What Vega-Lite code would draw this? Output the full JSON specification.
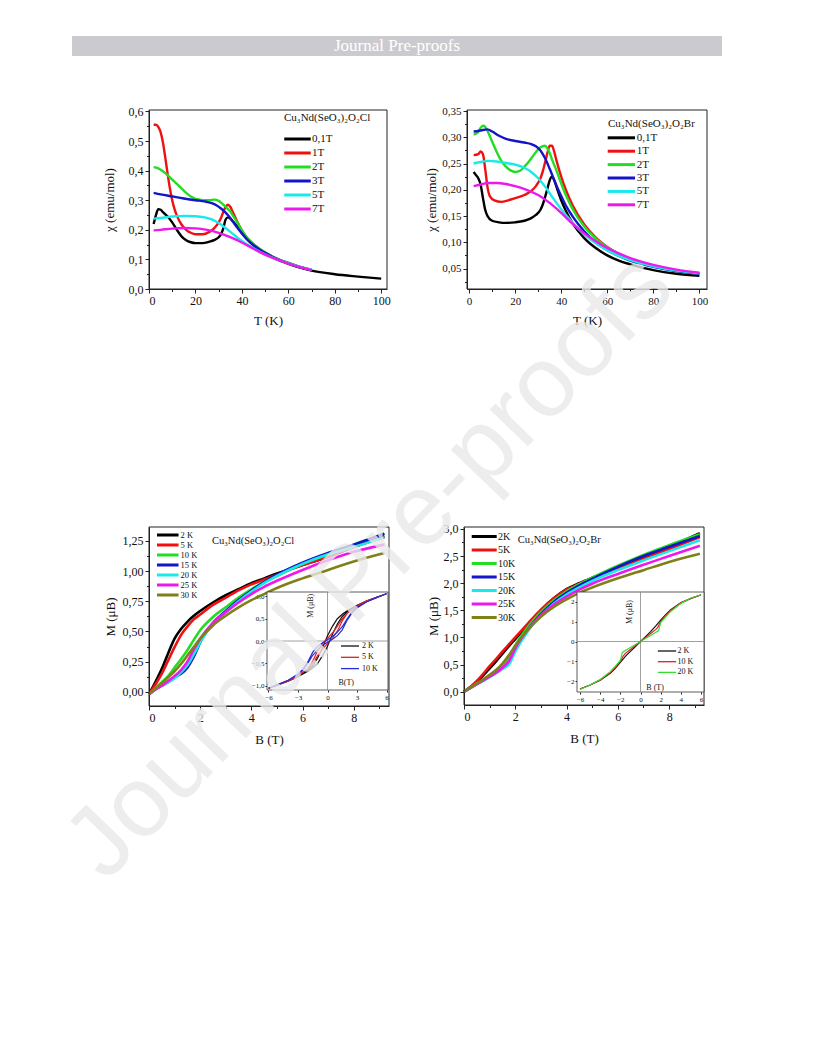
{
"$schema": "https://vega.github.io/schema/vega-lite/v6.json",
"width": 816, "height": 1056,
"autosize": {"type": "none"},
"padding": 0,
"background": "white",
"title": {"text": "Journal Pre-proofs", "anchor": "middle", "frame": "group", "orient": "top", "angle": -46, "font": "Liberation Sans", "fontSize": 100, "fontWeight": "normal", "color": "rgba(232,232,232,0.8)", "align": "center", "baseline": "middle", "offset": -565, "dx": -503, "dy": 433},
"config": {
  "view": {"stroke": null},
  "axis": {"labelFont": "Liberation Serif", "titleFont": "Liberation Serif", "labelColor": "#111", "titleColor": "#111", "domainColor": "#222", "tickColor": "#222", "grid": false, "titleFontWeight": "normal", "labelFontSize": 12, "titleFontSize": 13, "tickSize": 4, "labelPadding": 2},
  "legend": {"labelFont": "Liberation Serif", "titleFont": "Liberation Serif", "labelColor": "#111", "titleColor": "#111", "titleFontWeight": "normal", "padding": 0, "titleAnchor": "start", "titleAlign": "left"},
  "text": {"font": "Liberation Serif", "color": "#111"}
},
"datasets": {
"chiCl": [
{"s":"0,1T","T":2,"chi":0.22},{"s":"0,1T","T":3,"chi":0.25},{"s":"0,1T","T":4,"chi":0.27},{"s":"0,1T","T":5,"chi":0.268},{"s":"0,1T","T":6,"chi":0.26},{"s":"0,1T","T":8,"chi":0.245},{"s":"0,1T","T":10,"chi":0.225},{"s":"0,1T","T":12,"chi":0.2},{"s":"0,1T","T":14,"chi":0.178},{"s":"0,1T","T":16,"chi":0.165},{"s":"0,1T","T":18,"chi":0.158},{"s":"0,1T","T":20,"chi":0.155},{"s":"0,1T","T":23,"chi":0.155},{"s":"0,1T","T":26,"chi":0.16},{"s":"0,1T","T":28,"chi":0.165},{"s":"0,1T","T":30,"chi":0.175},{"s":"0,1T","T":31,"chi":0.185},{"s":"0,1T","T":32,"chi":0.205},{"s":"0,1T","T":33,"chi":0.235},{"s":"0,1T","T":34,"chi":0.242},{"s":"0,1T","T":35,"chi":0.238},{"s":"0,1T","T":36,"chi":0.23},{"s":"0,1T","T":38,"chi":0.212},{"s":"0,1T","T":40,"chi":0.19},{"s":"0,1T","T":42,"chi":0.17},{"s":"0,1T","T":45,"chi":0.148},{"s":"0,1T","T":50,"chi":0.12},{"s":"0,1T","T":55,"chi":0.1},{"s":"0,1T","T":60,"chi":0.085},{"s":"0,1T","T":65,"chi":0.072},{"s":"0,1T","T":70,"chi":0.062},{"s":"0,1T","T":80,"chi":0.05},{"s":"0,1T","T":90,"chi":0.042},{"s":"0,1T","T":100,"chi":0.035},
{"s":"1T","T":2,"chi":0.555},{"s":"1T","T":3,"chi":0.555},{"s":"1T","T":4,"chi":0.548},{"s":"1T","T":5,"chi":0.53},{"s":"1T","T":6,"chi":0.495},{"s":"1T","T":7,"chi":0.445},{"s":"1T","T":8,"chi":0.39},{"s":"1T","T":9,"chi":0.34},{"s":"1T","T":10,"chi":0.3},{"s":"1T","T":11,"chi":0.27},{"s":"1T","T":12,"chi":0.248},{"s":"1T","T":14,"chi":0.218},{"s":"1T","T":16,"chi":0.2},{"s":"1T","T":18,"chi":0.19},{"s":"1T","T":20,"chi":0.185},{"s":"1T","T":23,"chi":0.185},{"s":"1T","T":26,"chi":0.193},{"s":"1T","T":28,"chi":0.205},{"s":"1T","T":30,"chi":0.225},{"s":"1T","T":31,"chi":0.24},{"s":"1T","T":32,"chi":0.26},{"s":"1T","T":33,"chi":0.278},{"s":"1T","T":34,"chi":0.285},{"s":"1T","T":35,"chi":0.278},{"s":"1T","T":36,"chi":0.262},{"s":"1T","T":38,"chi":0.228},{"s":"1T","T":40,"chi":0.198},{"s":"1T","T":42,"chi":0.175},{"s":"1T","T":45,"chi":0.152},{"s":"1T","T":50,"chi":0.123},{"s":"1T","T":55,"chi":0.103},{"s":"1T","T":60,"chi":0.088},{"s":"1T","T":65,"chi":0.075},{"s":"1T","T":70,"chi":0.065},
{"s":"2T","T":2,"chi":0.412},{"s":"2T","T":4,"chi":0.408},{"s":"2T","T":6,"chi":0.398},{"s":"2T","T":8,"chi":0.385},{"s":"2T","T":10,"chi":0.37},{"s":"2T","T":12,"chi":0.355},{"s":"2T","T":14,"chi":0.34},{"s":"2T","T":16,"chi":0.325},{"s":"2T","T":18,"chi":0.313},{"s":"2T","T":20,"chi":0.305},{"s":"2T","T":22,"chi":0.302},{"s":"2T","T":24,"chi":0.3},{"s":"2T","T":26,"chi":0.3},{"s":"2T","T":28,"chi":0.302},{"s":"2T","T":30,"chi":0.298},{"s":"2T","T":31,"chi":0.292},{"s":"2T","T":32,"chi":0.285},{"s":"2T","T":33,"chi":0.278},{"s":"2T","T":34,"chi":0.27},{"s":"2T","T":35,"chi":0.262},{"s":"2T","T":36,"chi":0.25},{"s":"2T","T":38,"chi":0.225},{"s":"2T","T":40,"chi":0.198},{"s":"2T","T":42,"chi":0.176},{"s":"2T","T":45,"chi":0.152},{"s":"2T","T":50,"chi":0.124},{"s":"2T","T":55,"chi":0.103},{"s":"2T","T":60,"chi":0.088},{"s":"2T","T":65,"chi":0.075},{"s":"2T","T":70,"chi":0.065},
{"s":"3T","T":2,"chi":0.325},{"s":"3T","T":5,"chi":0.32},{"s":"3T","T":10,"chi":0.313},{"s":"3T","T":15,"chi":0.306},{"s":"3T","T":20,"chi":0.3},{"s":"3T","T":24,"chi":0.296},{"s":"3T","T":27,"chi":0.29},{"s":"3T","T":29,"chi":0.283},{"s":"3T","T":31,"chi":0.272},{"s":"3T","T":33,"chi":0.258},{"s":"3T","T":35,"chi":0.24},{"s":"3T","T":37,"chi":0.218},{"s":"3T","T":40,"chi":0.188},{"s":"3T","T":42,"chi":0.17},{"s":"3T","T":45,"chi":0.148},{"s":"3T","T":50,"chi":0.122},{"s":"3T","T":55,"chi":0.102},{"s":"3T","T":60,"chi":0.087},{"s":"3T","T":65,"chi":0.074},{"s":"3T","T":70,"chi":0.064},
{"s":"5T","T":2,"chi":0.238},{"s":"5T","T":5,"chi":0.24},{"s":"5T","T":10,"chi":0.245},{"s":"5T","T":15,"chi":0.247},{"s":"5T","T":20,"chi":0.246},{"s":"5T","T":24,"chi":0.242},{"s":"5T","T":27,"chi":0.235},{"s":"5T","T":30,"chi":0.223},{"s":"5T","T":33,"chi":0.206},{"s":"5T","T":36,"chi":0.187},{"s":"5T","T":40,"chi":0.162},{"s":"5T","T":45,"chi":0.138},{"s":"5T","T":50,"chi":0.117},{"s":"5T","T":55,"chi":0.1},{"s":"5T","T":60,"chi":0.087},{"s":"5T","T":65,"chi":0.075},{"s":"5T","T":70,"chi":0.065},
{"s":"7T","T":2,"chi":0.198},{"s":"7T","T":5,"chi":0.2},{"s":"7T","T":10,"chi":0.204},{"s":"7T","T":15,"chi":0.206},{"s":"7T","T":20,"chi":0.205},{"s":"7T","T":25,"chi":0.2},{"s":"7T","T":30,"chi":0.19},{"s":"7T","T":35,"chi":0.175},{"s":"7T","T":40,"chi":0.157},{"s":"7T","T":45,"chi":0.136},{"s":"7T","T":50,"chi":0.116},{"s":"7T","T":55,"chi":0.1},{"s":"7T","T":60,"chi":0.086},{"s":"7T","T":65,"chi":0.074},{"s":"7T","T":70,"chi":0.064}
],
"chiBr": [
{"s":"0,1T","T":2,"chi":0.234},{"s":"0,1T","T":3,"chi":0.228},{"s":"0,1T","T":4,"chi":0.222},{"s":"0,1T","T":5,"chi":0.21},{"s":"0,1T","T":6,"chi":0.185},{"s":"0,1T","T":7,"chi":0.162},{"s":"0,1T","T":8,"chi":0.15},{"s":"0,1T","T":10,"chi":0.141},{"s":"0,1T","T":13,"chi":0.138},{"s":"0,1T","T":16,"chi":0.137},{"s":"0,1T","T":20,"chi":0.138},{"s":"0,1T","T":24,"chi":0.141},{"s":"0,1T","T":27,"chi":0.146},{"s":"0,1T","T":29,"chi":0.152},{"s":"0,1T","T":31,"chi":0.162},{"s":"0,1T","T":32,"chi":0.172},{"s":"0,1T","T":33,"chi":0.186},{"s":"0,1T","T":34,"chi":0.202},{"s":"0,1T","T":35,"chi":0.218},{"s":"0,1T","T":36,"chi":0.225},{"s":"0,1T","T":37,"chi":0.218},{"s":"0,1T","T":38,"chi":0.205},{"s":"0,1T","T":40,"chi":0.18},{"s":"0,1T","T":42,"chi":0.16},{"s":"0,1T","T":45,"chi":0.136},{"s":"0,1T","T":50,"chi":0.108},{"s":"0,1T","T":55,"chi":0.089},{"s":"0,1T","T":60,"chi":0.075},{"s":"0,1T","T":65,"chi":0.065},{"s":"0,1T","T":70,"chi":0.058},{"s":"0,1T","T":80,"chi":0.047},{"s":"0,1T","T":90,"chi":0.04},{"s":"0,1T","T":100,"chi":0.036},
{"s":"1T","T":2,"chi":0.266},{"s":"1T","T":4,"chi":0.268},{"s":"1T","T":5,"chi":0.273},{"s":"1T","T":6,"chi":0.268},{"s":"1T","T":7,"chi":0.24},{"s":"1T","T":8,"chi":0.205},{"s":"1T","T":9,"chi":0.188},{"s":"1T","T":11,"chi":0.18},{"s":"1T","T":14,"chi":0.177},{"s":"1T","T":17,"chi":0.18},{"s":"1T","T":20,"chi":0.184},{"s":"1T","T":24,"chi":0.19},{"s":"1T","T":27,"chi":0.198},{"s":"1T","T":29,"chi":0.207},{"s":"1T","T":31,"chi":0.222},{"s":"1T","T":32,"chi":0.235},{"s":"1T","T":33,"chi":0.252},{"s":"1T","T":34,"chi":0.27},{"s":"1T","T":35,"chi":0.284},{"s":"1T","T":36,"chi":0.284},{"s":"1T","T":37,"chi":0.272},{"s":"1T","T":38,"chi":0.255},{"s":"1T","T":40,"chi":0.225},{"s":"1T","T":42,"chi":0.2},{"s":"1T","T":45,"chi":0.17},{"s":"1T","T":50,"chi":0.134},{"s":"1T","T":55,"chi":0.109},{"s":"1T","T":60,"chi":0.091},{"s":"1T","T":65,"chi":0.078},{"s":"1T","T":70,"chi":0.068},{"s":"1T","T":80,"chi":0.055},{"s":"1T","T":90,"chi":0.046},{"s":"1T","T":100,"chi":0.04},
{"s":"2T","T":2,"chi":0.305},{"s":"2T","T":4,"chi":0.31},{"s":"2T","T":5,"chi":0.318},{"s":"2T","T":6,"chi":0.322},{"s":"2T","T":7,"chi":0.32},{"s":"2T","T":8,"chi":0.312},{"s":"2T","T":10,"chi":0.292},{"s":"2T","T":12,"chi":0.272},{"s":"2T","T":14,"chi":0.255},{"s":"2T","T":16,"chi":0.244},{"s":"2T","T":18,"chi":0.237},{"s":"2T","T":20,"chi":0.234},{"s":"2T","T":22,"chi":0.236},{"s":"2T","T":24,"chi":0.244},{"s":"2T","T":26,"chi":0.254},{"s":"2T","T":28,"chi":0.266},{"s":"2T","T":30,"chi":0.277},{"s":"2T","T":32,"chi":0.283},{"s":"2T","T":33,"chi":0.284},{"s":"2T","T":34,"chi":0.279},{"s":"2T","T":35,"chi":0.27},{"s":"2T","T":36,"chi":0.258},{"s":"2T","T":38,"chi":0.236},{"s":"2T","T":40,"chi":0.212},{"s":"2T","T":42,"chi":0.19},{"s":"2T","T":45,"chi":0.163},{"s":"2T","T":50,"chi":0.13},{"s":"2T","T":55,"chi":0.107},{"s":"2T","T":60,"chi":0.09},{"s":"2T","T":65,"chi":0.077},{"s":"2T","T":70,"chi":0.067},{"s":"2T","T":80,"chi":0.054},{"s":"2T","T":90,"chi":0.045},{"s":"2T","T":100,"chi":0.04},
{"s":"3T","T":2,"chi":0.311},{"s":"3T","T":4,"chi":0.312},{"s":"3T","T":6,"chi":0.314},{"s":"3T","T":8,"chi":0.315},{"s":"3T","T":10,"chi":0.311},{"s":"3T","T":13,"chi":0.303},{"s":"3T","T":16,"chi":0.297},{"s":"3T","T":20,"chi":0.293},{"s":"3T","T":24,"chi":0.29},{"s":"3T","T":27,"chi":0.287},{"s":"3T","T":29,"chi":0.283},{"s":"3T","T":31,"chi":0.275},{"s":"3T","T":33,"chi":0.26},{"s":"3T","T":35,"chi":0.24},{"s":"3T","T":37,"chi":0.218},{"s":"3T","T":40,"chi":0.188},{"s":"3T","T":42,"chi":0.17},{"s":"3T","T":45,"chi":0.149},{"s":"3T","T":50,"chi":0.121},{"s":"3T","T":55,"chi":0.1},{"s":"3T","T":60,"chi":0.085},{"s":"3T","T":65,"chi":0.074},{"s":"3T","T":70,"chi":0.065},{"s":"3T","T":80,"chi":0.053},{"s":"3T","T":90,"chi":0.045},{"s":"3T","T":100,"chi":0.04},
{"s":"5T","T":2,"chi":0.25},{"s":"5T","T":5,"chi":0.253},{"s":"5T","T":8,"chi":0.255},{"s":"5T","T":12,"chi":0.254},{"s":"5T","T":16,"chi":0.251},{"s":"5T","T":20,"chi":0.248},{"s":"5T","T":24,"chi":0.242},{"s":"5T","T":27,"chi":0.234},{"s":"5T","T":30,"chi":0.222},{"s":"5T","T":33,"chi":0.206},{"s":"5T","T":36,"chi":0.187},{"s":"5T","T":40,"chi":0.163},{"s":"5T","T":45,"chi":0.137},{"s":"5T","T":50,"chi":0.115},{"s":"5T","T":55,"chi":0.098},{"s":"5T","T":60,"chi":0.085},{"s":"5T","T":65,"chi":0.074},{"s":"5T","T":70,"chi":0.066},{"s":"5T","T":80,"chi":0.054},{"s":"5T","T":90,"chi":0.046},{"s":"5T","T":100,"chi":0.041},
{"s":"7T","T":2,"chi":0.207},{"s":"7T","T":5,"chi":0.21},{"s":"7T","T":8,"chi":0.213},{"s":"7T","T":12,"chi":0.213},{"s":"7T","T":16,"chi":0.211},{"s":"7T","T":20,"chi":0.207},{"s":"7T","T":25,"chi":0.2},{"s":"7T","T":30,"chi":0.19},{"s":"7T","T":35,"chi":0.175},{"s":"7T","T":40,"chi":0.156},{"s":"7T","T":45,"chi":0.135},{"s":"7T","T":50,"chi":0.117},{"s":"7T","T":55,"chi":0.102},{"s":"7T","T":60,"chi":0.089},{"s":"7T","T":65,"chi":0.079},{"s":"7T","T":70,"chi":0.07},{"s":"7T","T":80,"chi":0.057},{"s":"7T","T":90,"chi":0.048},{"s":"7T","T":100,"chi":0.042}
],
"mCl": [
{"s":"2 K","B":0,"M":-0.02},{"s":"2 K","B":0.25,"M":0.08},{"s":"2 K","B":0.5,"M":0.19},{"s":"2 K","B":0.75,"M":0.32},{"s":"2 K","B":1,"M":0.44},{"s":"2 K","B":1.25,"M":0.52},{"s":"2 K","B":1.5,"M":0.58},{"s":"2 K","B":1.75,"M":0.63},{"s":"2 K","B":2,"M":0.67},{"s":"2 K","B":2.5,"M":0.74},{"s":"2 K","B":3,"M":0.8},{"s":"2 K","B":3.5,"M":0.85},{"s":"2 K","B":4,"M":0.9},{"s":"2 K","B":4.5,"M":0.94},{"s":"2 K","B":5,"M":0.98},{"s":"2 K","B":6,"M":1.05},{"s":"2 K","B":7,"M":1.12},{"s":"2 K","B":8,"M":1.2},{"s":"2 K","B":9.2,"M":1.29},
{"s":"5 K","B":0,"M":-0.02},{"s":"5 K","B":0.25,"M":0.06},{"s":"5 K","B":0.5,"M":0.15},{"s":"5 K","B":0.75,"M":0.26},{"s":"5 K","B":1,"M":0.37},{"s":"5 K","B":1.25,"M":0.47},{"s":"5 K","B":1.5,"M":0.54},{"s":"5 K","B":1.75,"M":0.6},{"s":"5 K","B":2,"M":0.64},{"s":"5 K","B":2.5,"M":0.72},{"s":"5 K","B":3,"M":0.78},{"s":"5 K","B":3.5,"M":0.84},{"s":"5 K","B":4,"M":0.89},{"s":"5 K","B":4.5,"M":0.93},{"s":"5 K","B":5,"M":0.97},{"s":"5 K","B":6,"M":1.05},{"s":"5 K","B":7,"M":1.12},{"s":"5 K","B":8,"M":1.2},{"s":"5 K","B":9.2,"M":1.28},
{"s":"10 K","B":0,"M":-0.02},{"s":"10 K","B":0.25,"M":0.03},{"s":"10 K","B":0.5,"M":0.08},{"s":"10 K","B":0.75,"M":0.13},{"s":"10 K","B":1,"M":0.2},{"s":"10 K","B":1.25,"M":0.27},{"s":"10 K","B":1.5,"M":0.345},{"s":"10 K","B":1.75,"M":0.43},{"s":"10 K","B":2,"M":0.51},{"s":"10 K","B":2.5,"M":0.62},{"s":"10 K","B":3,"M":0.7},{"s":"10 K","B":3.5,"M":0.78},{"s":"10 K","B":4,"M":0.85},{"s":"10 K","B":4.5,"M":0.91},{"s":"10 K","B":5,"M":0.96},{"s":"10 K","B":6,"M":1.06},{"s":"10 K","B":7,"M":1.14},{"s":"10 K","B":8,"M":1.22},{"s":"10 K","B":9.2,"M":1.31},
{"s":"15 K","B":0,"M":-0.02},{"s":"15 K","B":0.25,"M":0.02},{"s":"15 K","B":0.5,"M":0.05},{"s":"15 K","B":0.75,"M":0.08},{"s":"15 K","B":1,"M":0.12},{"s":"15 K","B":1.25,"M":0.15},{"s":"15 K","B":1.5,"M":0.2},{"s":"15 K","B":1.75,"M":0.29},{"s":"15 K","B":2,"M":0.41},{"s":"15 K","B":2.5,"M":0.57},{"s":"15 K","B":3,"M":0.67},{"s":"15 K","B":3.5,"M":0.76},{"s":"15 K","B":4,"M":0.84},{"s":"15 K","B":4.5,"M":0.91},{"s":"15 K","B":5,"M":0.97},{"s":"15 K","B":6,"M":1.07},{"s":"15 K","B":7,"M":1.15},{"s":"15 K","B":8,"M":1.22},{"s":"15 K","B":9.2,"M":1.31},
{"s":"20 K","B":0,"M":-0.02},{"s":"20 K","B":0.25,"M":0.02},{"s":"20 K","B":0.5,"M":0.05},{"s":"20 K","B":0.75,"M":0.08},{"s":"20 K","B":1,"M":0.11},{"s":"20 K","B":1.25,"M":0.16},{"s":"20 K","B":1.5,"M":0.22},{"s":"20 K","B":1.75,"M":0.31},{"s":"20 K","B":2,"M":0.41},{"s":"20 K","B":2.5,"M":0.56},{"s":"20 K","B":3,"M":0.66},{"s":"20 K","B":3.5,"M":0.75},{"s":"20 K","B":4,"M":0.83},{"s":"20 K","B":4.5,"M":0.9},{"s":"20 K","B":5,"M":0.96},{"s":"20 K","B":6,"M":1.06},{"s":"20 K","B":7,"M":1.14},{"s":"20 K","B":8,"M":1.2},{"s":"20 K","B":9.2,"M":1.28},
{"s":"25 K","B":0,"M":-0.02},{"s":"25 K","B":0.25,"M":0.02},{"s":"25 K","B":0.5,"M":0.05},{"s":"25 K","B":0.75,"M":0.09},{"s":"25 K","B":1,"M":0.13},{"s":"25 K","B":1.25,"M":0.18},{"s":"25 K","B":1.5,"M":0.25},{"s":"25 K","B":1.75,"M":0.35},{"s":"25 K","B":2,"M":0.44},{"s":"25 K","B":2.5,"M":0.57},{"s":"25 K","B":3,"M":0.66},{"s":"25 K","B":3.5,"M":0.74},{"s":"25 K","B":4,"M":0.81},{"s":"25 K","B":4.5,"M":0.87},{"s":"25 K","B":5,"M":0.92},{"s":"25 K","B":6,"M":1.01},{"s":"25 K","B":7,"M":1.09},{"s":"25 K","B":8,"M":1.16},{"s":"25 K","B":9.2,"M":1.22},
{"s":"30 K","B":0,"M":-0.02},{"s":"30 K","B":0.25,"M":0.03},{"s":"30 K","B":0.5,"M":0.07},{"s":"30 K","B":0.75,"M":0.12},{"s":"30 K","B":1,"M":0.17},{"s":"30 K","B":1.25,"M":0.23},{"s":"30 K","B":1.5,"M":0.3},{"s":"30 K","B":1.75,"M":0.37},{"s":"30 K","B":2,"M":0.44},{"s":"30 K","B":2.5,"M":0.55},{"s":"30 K","B":3,"M":0.63},{"s":"30 K","B":3.5,"M":0.7},{"s":"30 K","B":4,"M":0.76},{"s":"30 K","B":4.5,"M":0.81},{"s":"30 K","B":5,"M":0.86},{"s":"30 K","B":6,"M":0.94},{"s":"30 K","B":7,"M":1.01},{"s":"30 K","B":8,"M":1.08},{"s":"30 K","B":9.2,"M":1.15}
],
"mBr": [
{"s":"2K","B":0,"M":0},{"s":"2K","B":0.25,"M":0.08},{"s":"2K","B":0.5,"M":0.18},{"s":"2K","B":0.75,"M":0.3},{"s":"2K","B":1,"M":0.43},{"s":"2K","B":1.25,"M":0.56},{"s":"2K","B":1.5,"M":0.7},{"s":"2K","B":1.75,"M":0.84},{"s":"2K","B":2,"M":0.97},{"s":"2K","B":2.5,"M":1.24},{"s":"2K","B":3,"M":1.5},{"s":"2K","B":3.5,"M":1.72},{"s":"2K","B":4,"M":1.89},{"s":"2K","B":4.5,"M":2.0},{"s":"2K","B":5,"M":2.1},{"s":"2K","B":6,"M":2.29},{"s":"2K","B":7,"M":2.48},{"s":"2K","B":8,"M":2.67},{"s":"2K","B":9.2,"M":2.92},
{"s":"5K","B":0,"M":0},{"s":"5K","B":0.25,"M":0.09},{"s":"5K","B":0.5,"M":0.2},{"s":"5K","B":0.75,"M":0.33},{"s":"5K","B":1,"M":0.47},{"s":"5K","B":1.25,"M":0.6},{"s":"5K","B":1.5,"M":0.74},{"s":"5K","B":1.75,"M":0.87},{"s":"5K","B":2,"M":1.0},{"s":"5K","B":2.5,"M":1.26},{"s":"5K","B":3,"M":1.51},{"s":"5K","B":3.5,"M":1.72},{"s":"5K","B":4,"M":1.88},{"s":"5K","B":4.5,"M":1.99},{"s":"5K","B":5,"M":2.09},{"s":"5K","B":6,"M":2.27},{"s":"5K","B":7,"M":2.45},{"s":"5K","B":8,"M":2.63},{"s":"5K","B":9.2,"M":2.85},
{"s":"10K","B":0,"M":0},{"s":"10K","B":0.25,"M":0.07},{"s":"10K","B":0.5,"M":0.15},{"s":"10K","B":0.75,"M":0.22},{"s":"10K","B":1,"M":0.3},{"s":"10K","B":1.25,"M":0.38},{"s":"10K","B":1.5,"M":0.47},{"s":"10K","B":1.75,"M":0.62},{"s":"10K","B":2,"M":0.85},{"s":"10K","B":2.5,"M":1.2},{"s":"10K","B":3,"M":1.47},{"s":"10K","B":3.5,"M":1.68},{"s":"10K","B":4,"M":1.85},{"s":"10K","B":4.5,"M":1.98},{"s":"10K","B":5,"M":2.1},{"s":"10K","B":6,"M":2.32},{"s":"10K","B":7,"M":2.52},{"s":"10K","B":8,"M":2.7},{"s":"10K","B":9.2,"M":2.9},
{"s":"15K","B":0,"M":0},{"s":"15K","B":0.25,"M":0.07},{"s":"15K","B":0.5,"M":0.14},{"s":"15K","B":0.75,"M":0.21},{"s":"15K","B":1,"M":0.28},{"s":"15K","B":1.25,"M":0.35},{"s":"15K","B":1.5,"M":0.43},{"s":"15K","B":1.75,"M":0.53},{"s":"15K","B":2,"M":0.78},{"s":"15K","B":2.5,"M":1.15},{"s":"15K","B":3,"M":1.43},{"s":"15K","B":3.5,"M":1.65},{"s":"15K","B":4,"M":1.82},{"s":"15K","B":4.5,"M":1.96},{"s":"15K","B":5,"M":2.08},{"s":"15K","B":6,"M":2.3},{"s":"15K","B":7,"M":2.5},{"s":"15K","B":8,"M":2.67},{"s":"15K","B":9.2,"M":2.87},
{"s":"20K","B":0,"M":0},{"s":"20K","B":0.25,"M":0.07},{"s":"20K","B":0.5,"M":0.14},{"s":"20K","B":0.75,"M":0.2},{"s":"20K","B":1,"M":0.27},{"s":"20K","B":1.25,"M":0.34},{"s":"20K","B":1.5,"M":0.42},{"s":"20K","B":1.75,"M":0.5},{"s":"20K","B":2,"M":0.74},{"s":"20K","B":2.5,"M":1.12},{"s":"20K","B":3,"M":1.4},{"s":"20K","B":3.5,"M":1.62},{"s":"20K","B":4,"M":1.79},{"s":"20K","B":4.5,"M":1.92},{"s":"20K","B":5,"M":2.04},{"s":"20K","B":6,"M":2.24},{"s":"20K","B":7,"M":2.42},{"s":"20K","B":8,"M":2.59},{"s":"20K","B":9.2,"M":2.79},
{"s":"25K","B":0,"M":0},{"s":"25K","B":0.25,"M":0.07},{"s":"25K","B":0.5,"M":0.14},{"s":"25K","B":0.75,"M":0.21},{"s":"25K","B":1,"M":0.28},{"s":"25K","B":1.25,"M":0.35},{"s":"25K","B":1.5,"M":0.44},{"s":"25K","B":1.75,"M":0.56},{"s":"25K","B":2,"M":0.8},{"s":"25K","B":2.5,"M":1.15},{"s":"25K","B":3,"M":1.41},{"s":"25K","B":3.5,"M":1.6},{"s":"25K","B":4,"M":1.75},{"s":"25K","B":4.5,"M":1.88},{"s":"25K","B":5,"M":1.99},{"s":"25K","B":6,"M":2.17},{"s":"25K","B":7,"M":2.34},{"s":"25K","B":8,"M":2.5},{"s":"25K","B":9.2,"M":2.69},
{"s":"30K","B":0,"M":0},{"s":"30K","B":0.25,"M":0.08},{"s":"30K","B":0.5,"M":0.15},{"s":"30K","B":0.75,"M":0.23},{"s":"30K","B":1,"M":0.31},{"s":"30K","B":1.25,"M":0.4},{"s":"30K","B":1.5,"M":0.52},{"s":"30K","B":1.75,"M":0.67},{"s":"30K","B":2,"M":0.85},{"s":"30K","B":2.5,"M":1.15},{"s":"30K","B":3,"M":1.38},{"s":"30K","B":3.5,"M":1.56},{"s":"30K","B":4,"M":1.7},{"s":"30K","B":4.5,"M":1.82},{"s":"30K","B":5,"M":1.92},{"s":"30K","B":6,"M":2.09},{"s":"30K","B":7,"M":2.24},{"s":"30K","B":8,"M":2.39},{"s":"30K","B":9.2,"M":2.54}
],
"insCl": [
{"s":"2 K","i":0,"B":-6,"M":-1.06},{"s":"2 K","i":1,"B":-5,"M":-0.98},{"s":"2 K","i":2,"B":-4,"M":-0.9},{"s":"2 K","i":3,"B":-3,"M":-0.8},{"s":"2 K","i":4,"B":-2,"M":-0.68},{"s":"2 K","i":5,"B":-1.5,"M":-0.6},{"s":"2 K","i":6,"B":-1,"M":-0.5},{"s":"2 K","i":7,"B":-0.5,"M":-0.33},{"s":"2 K","i":8,"B":0,"M":-0.12},{"s":"2 K","i":9,"B":0.5,"M":0.15},{"s":"2 K","i":10,"B":1,"M":0.38},{"s":"2 K","i":11,"B":1.5,"M":0.55},{"s":"2 K","i":12,"B":2,"M":0.65},{"s":"2 K","i":13,"B":3,"M":0.79},{"s":"2 K","i":14,"B":4,"M":0.89},{"s":"2 K","i":15,"B":5,"M":0.98},{"s":"2 K","i":16,"B":6,"M":1.06},{"s":"2 K","i":17,"B":5,"M":0.98},{"s":"2 K","i":18,"B":4,"M":0.9},{"s":"2 K","i":19,"B":3,"M":0.8},{"s":"2 K","i":20,"B":2,"M":0.68},{"s":"2 K","i":21,"B":1.5,"M":0.6},{"s":"2 K","i":22,"B":1,"M":0.5},{"s":"2 K","i":23,"B":0.5,"M":0.33},{"s":"2 K","i":24,"B":0,"M":0.12},{"s":"2 K","i":25,"B":-0.5,"M":-0.15},{"s":"2 K","i":26,"B":-1,"M":-0.38},{"s":"2 K","i":27,"B":-1.5,"M":-0.55},{"s":"2 K","i":28,"B":-2,"M":-0.65},{"s":"2 K","i":29,"B":-3,"M":-0.79},{"s":"2 K","i":30,"B":-4,"M":-0.89},{"s":"2 K","i":31,"B":-5,"M":-0.98},{"s":"2 K","i":32,"B":-6,"M":-1.06},
{"s":"5 K","i":0,"B":-6,"M":-1.06},{"s":"5 K","i":1,"B":-5,"M":-0.98},{"s":"5 K","i":2,"B":-4,"M":-0.9},{"s":"5 K","i":3,"B":-3,"M":-0.79},{"s":"5 K","i":4,"B":-2,"M":-0.62},{"s":"5 K","i":5,"B":-1.5,"M":-0.5},{"s":"5 K","i":6,"B":-1,"M":-0.33},{"s":"5 K","i":7,"B":-0.5,"M":-0.18},{"s":"5 K","i":8,"B":0,"M":-0.06},{"s":"5 K","i":9,"B":0.5,"M":0.06},{"s":"5 K","i":10,"B":1,"M":0.22},{"s":"5 K","i":11,"B":1.5,"M":0.45},{"s":"5 K","i":12,"B":2,"M":0.62},{"s":"5 K","i":13,"B":3,"M":0.78},{"s":"5 K","i":14,"B":4,"M":0.89},{"s":"5 K","i":15,"B":5,"M":0.98},{"s":"5 K","i":16,"B":6,"M":1.06},{"s":"5 K","i":17,"B":5,"M":0.98},{"s":"5 K","i":18,"B":4,"M":0.9},{"s":"5 K","i":19,"B":3,"M":0.79},{"s":"5 K","i":20,"B":2,"M":0.62},{"s":"5 K","i":21,"B":1.5,"M":0.5},{"s":"5 K","i":22,"B":1,"M":0.33},{"s":"5 K","i":23,"B":0.5,"M":0.18},{"s":"5 K","i":24,"B":0,"M":0.06},{"s":"5 K","i":25,"B":-0.5,"M":-0.06},{"s":"5 K","i":26,"B":-1,"M":-0.22},{"s":"5 K","i":27,"B":-1.5,"M":-0.45},{"s":"5 K","i":28,"B":-2,"M":-0.62},{"s":"5 K","i":29,"B":-3,"M":-0.78},{"s":"5 K","i":30,"B":-4,"M":-0.89},{"s":"5 K","i":31,"B":-5,"M":-0.98},{"s":"5 K","i":32,"B":-6,"M":-1.06},
{"s":"10 K","i":0,"B":-6,"M":-1.06},{"s":"10 K","i":1,"B":-5,"M":-0.97},{"s":"10 K","i":2,"B":-4,"M":-0.88},{"s":"10 K","i":3,"B":-3,"M":-0.76},{"s":"10 K","i":4,"B":-2.5,"M":-0.66},{"s":"10 K","i":5,"B":-2,"M":-0.5},{"s":"10 K","i":6,"B":-1.5,"M":-0.32},{"s":"10 K","i":7,"B":-1,"M":-0.2},{"s":"10 K","i":8,"B":-0.5,"M":-0.1},{"s":"10 K","i":9,"B":0,"M":-0.03},{"s":"10 K","i":10,"B":0.5,"M":0.04},{"s":"10 K","i":11,"B":1,"M":0.12},{"s":"10 K","i":12,"B":1.5,"M":0.25},{"s":"10 K","i":13,"B":2,"M":0.47},{"s":"10 K","i":14,"B":2.5,"M":0.63},{"s":"10 K","i":15,"B":3,"M":0.74},{"s":"10 K","i":16,"B":4,"M":0.88},{"s":"10 K","i":17,"B":5,"M":0.98},{"s":"10 K","i":18,"B":6,"M":1.06},{"s":"10 K","i":19,"B":5,"M":0.97},{"s":"10 K","i":20,"B":4,"M":0.88},{"s":"10 K","i":21,"B":3,"M":0.76},{"s":"10 K","i":22,"B":2.5,"M":0.66},{"s":"10 K","i":23,"B":2,"M":0.5},{"s":"10 K","i":24,"B":1.5,"M":0.32},{"s":"10 K","i":25,"B":1,"M":0.2},{"s":"10 K","i":26,"B":0.5,"M":0.1},{"s":"10 K","i":27,"B":0,"M":0.03},{"s":"10 K","i":28,"B":-0.5,"M":-0.04},{"s":"10 K","i":29,"B":-1,"M":-0.12},{"s":"10 K","i":30,"B":-1.5,"M":-0.25},{"s":"10 K","i":31,"B":-2,"M":-0.47},{"s":"10 K","i":32,"B":-2.5,"M":-0.63},{"s":"10 K","i":33,"B":-3,"M":-0.74},{"s":"10 K","i":34,"B":-4,"M":-0.88},{"s":"10 K","i":35,"B":-5,"M":-0.98},{"s":"10 K","i":36,"B":-6,"M":-1.06}
],
"insBr": [
{"s":"2 K","B":-6,"M":-2.4},{"s":"2 K","B":-5,"M":-2.2},{"s":"2 K","B":-4,"M":-1.95},{"s":"2 K","B":-3,"M":-1.6},{"s":"2 K","B":-2.5,"M":-1.35},{"s":"2 K","B":-2,"M":-1.05},{"s":"2 K","B":-1.5,"M":-0.75},{"s":"2 K","B":-1,"M":-0.5},{"s":"2 K","B":-0.5,"M":-0.25},{"s":"2 K","B":0,"M":0},{"s":"2 K","B":0.5,"M":0.25},{"s":"2 K","B":1,"M":0.5},{"s":"2 K","B":1.5,"M":0.78},{"s":"2 K","B":2,"M":1.08},{"s":"2 K","B":2.5,"M":1.35},{"s":"2 K","B":3,"M":1.6},{"s":"2 K","B":4,"M":1.95},{"s":"2 K","B":5,"M":2.17},{"s":"2 K","B":6,"M":2.35},
{"s":"10 K","B":-6,"M":-2.4},{"s":"10 K","B":-5,"M":-2.2},{"s":"10 K","B":-4,"M":-1.95},{"s":"10 K","B":-3,"M":-1.57},{"s":"10 K","B":-2.5,"M":-1.3},{"s":"10 K","B":-2,"M":-1.0},{"s":"10 K","B":-1.7,"M":-0.72},{"s":"10 K","B":-1.5,"M":-0.6},{"s":"10 K","B":-1,"M":-0.4},{"s":"10 K","B":-0.5,"M":-0.2},{"s":"10 K","B":0,"M":0},{"s":"10 K","B":0.5,"M":0.2},{"s":"10 K","B":1,"M":0.4},{"s":"10 K","B":1.5,"M":0.6},{"s":"10 K","B":1.7,"M":0.7},{"s":"10 K","B":2,"M":1.0},{"s":"10 K","B":2.5,"M":1.3},{"s":"10 K","B":3,"M":1.57},{"s":"10 K","B":4,"M":1.95},{"s":"10 K","B":5,"M":2.18},{"s":"10 K","B":6,"M":2.36},
{"s":"20 K","B":-6,"M":-2.42},{"s":"20 K","B":-5,"M":-2.2},{"s":"20 K","B":-4,"M":-1.92},{"s":"20 K","B":-3,"M":-1.52},{"s":"20 K","B":-2.5,"M":-1.25},{"s":"20 K","B":-2,"M":-0.95},{"s":"20 K","B":-1.8,"M":-0.55},{"s":"20 K","B":-1.5,"M":-0.45},{"s":"20 K","B":-1,"M":-0.3},{"s":"20 K","B":-0.5,"M":-0.15},{"s":"20 K","B":0,"M":0},{"s":"20 K","B":0.5,"M":0.15},{"s":"20 K","B":1,"M":0.3},{"s":"20 K","B":1.5,"M":0.45},{"s":"20 K","B":1.8,"M":0.55},{"s":"20 K","B":2,"M":0.95},{"s":"20 K","B":2.5,"M":1.25},{"s":"20 K","B":3,"M":1.52},{"s":"20 K","B":4,"M":1.92},{"s":"20 K","B":5,"M":2.2},{"s":"20 K","B":6,"M":2.36}
]
},
"resolve": {"scale": {"x": "independent", "y": "independent", "color": "independent"}},
"layer": [
{"data": {"values": [{}]}, "mark": {"type": "rect", "fill": "#cbcbcf"},
 "encoding": {"x": {"datum": 0, "type": "quantitative", "scale": {"domain": [0,1], "range": [72,722], "nice": false, "zero": false}, "axis": null}, "x2": {"datum": 1},
  "y": {"datum": 0, "type": "quantitative", "scale": {"domain": [0,1], "range": [56,36], "nice": false, "zero": false}, "axis": null}, "y2": {"datum": 1}}},
{"data": {"values": [{}]}, "mark": {"type": "text", "text": "Journal Pre-proofs", "font": "Liberation Serif", "fontSize": 17, "color": "white", "baseline": "middle", "align": "center"},
 "encoding": {"x": {"datum": 0.5, "type": "quantitative", "scale": {"domain": [0,1], "range": [72,722], "nice": false, "zero": false}, "axis": null},
  "y": {"datum": 0.5, "type": "quantitative", "scale": {"domain": [0,1], "range": [56,36], "nice": false, "zero": false}, "axis": null}}},

{"data": {"name": "chiCl"}, "mark": {"type": "line", "strokeWidth": 2.4, "interpolate": "monotone"},
 "encoding": {
  "x": {"field": "T", "type": "quantitative", "scale": {"domain": [0,102.5], "range": [149,387], "nice": false, "zero": false},
   "axis": {"orient": "bottom", "offset": -767, "values": [0,20,40,60,80,100], "title": "T (K)", "titlePadding": 8}},
  "y": {"field": "chi", "type": "quantitative", "scale": {"domain": [0,0.605], "range": [289,110], "nice": false, "zero": false},
   "axis": {"orient": "left", "offset": -149, "values": [0,0.1,0.2,0.3,0.4,0.5,0.6], "labelExpr": "replace(format(datum.value,'.1f'),'.',',')", "title": "χ (emu/mol)", "titlePadding": 12}},
  "color": {"field": "s", "type": "nominal", "scale": {"domain": ["0,1T","1T","2T","3T","5T","7T"], "range": ["#000000","#ee1111","#22dd22","#1414c8","#18eaea","#ee18ee"]},
   "legend": {"orient": "none", "legendX": 284, "legendY": 112, "title": "Cu₃Nd(SeO₃)₂O₂Cl", "titleFontSize": 11, "titlePadding": 9.5, "symbolType": "M-2.65,0H2.65", "symbolSize": 100, "symbolStrokeWidth": 3, "symbolOffset": 7, "labelFontSize": 11, "labelOffset": 8, "rowPadding": 1}}}},
{"data": {"values": [{}]}, "mark": {"type": "rect", "fillOpacity": 0, "stroke": "#222", "strokeWidth": 1},
 "encoding": {
  "x": {"datum": 0, "type": "quantitative", "scale": {"domain": [0,102.5], "range": [149,387], "nice": false, "zero": false}, "axis": {"orient": "bottom", "offset": -767, "values": [10,30,50,70,90], "labels": false, "domain": false, "tickSize": 2.5, "title": null}}, "x2": {"datum": 102.5},
  "y": {"datum": 0, "type": "quantitative", "scale": {"domain": [0,0.605], "range": [289,110], "nice": false, "zero": false}, "axis": {"orient": "left", "offset": -149, "values": [0.05,0.15,0.25,0.35,0.45,0.55], "labels": false, "domain": false, "tickSize": 2.5, "title": null}}, "y2": {"datum": 0.605}}},

{"data": {"name": "chiBr"}, "mark": {"type": "line", "strokeWidth": 2.4, "interpolate": "monotone"},
 "encoding": {
  "x": {"field": "T", "type": "quantitative", "scale": {"domain": [-0.9,103.3], "range": [467,707], "nice": false, "zero": false},
   "axis": {"orient": "bottom", "offset": -767, "values": [0,20,40,60,80,100], "title": "T (K)", "titlePadding": 8, "labelFontSize": 11}},
  "y": {"field": "chi", "type": "quantitative", "scale": {"domain": [0.011,0.352], "range": [289,110], "nice": false, "zero": false},
   "axis": {"orient": "left", "offset": -467, "values": [0.05,0.1,0.15,0.2,0.25,0.3,0.35], "labelExpr": "replace(format(datum.value,'.2f'),'.',',')", "title": "χ (emu/mol)", "titlePadding": 3, "labelFontSize": 11}},
  "color": {"field": "s", "type": "nominal", "scale": {"domain": ["0,1T","1T","2T","3T","5T","7T"], "range": ["#000000","#ee1111","#22dd22","#1414c8","#18eaea","#ee18ee"]},
   "legend": {"orient": "none", "legendX": 608, "legendY": 118, "title": "Cu₃Nd(SeO₃)₂O₂Br", "titleFontSize": 11, "titlePadding": 2.3, "symbolType": "M-2.73,0H2.73", "symbolSize": 100, "symbolStrokeWidth": 3, "symbolOffset": 6.85, "labelFontSize": 11, "labelOffset": 8.85, "rowPadding": 0.4}}}},
{"data": {"values": [{}]}, "mark": {"type": "rect", "fillOpacity": 0, "stroke": "#222", "strokeWidth": 1},
 "encoding": {
  "x": {"datum": -0.9, "type": "quantitative", "scale": {"domain": [-0.9,103.3], "range": [467,707], "nice": false, "zero": false}, "axis": {"orient": "bottom", "offset": -767, "values": [10,30,50,70,90], "labels": false, "domain": false, "tickSize": 2.5, "title": null}}, "x2": {"datum": 103.3},
  "y": {"datum": 0.011, "type": "quantitative", "scale": {"domain": [0.011,0.352], "range": [289,110], "nice": false, "zero": false}, "axis": {"orient": "left", "offset": -467, "values": [0.025,0.075,0.125,0.175,0.225,0.275,0.325], "labels": false, "domain": false, "tickSize": 2.5, "title": null}}, "y2": {"datum": 0.352}}},

{"data": {"name": "mCl"}, "mark": {"type": "line", "strokeWidth": 2.6, "interpolate": "monotone"},
 "encoding": {
  "x": {"field": "B", "type": "quantitative", "scale": {"domain": [0,9.38], "range": [149,389], "nice": false, "zero": false},
   "axis": {"orient": "bottom", "offset": -350, "values": [0,2,4,6,8], "title": "B (T)", "titlePadding": 10}},
  "y": {"field": "M", "type": "quantitative", "scale": {"domain": [-0.118,1.366], "range": [706,527], "nice": false, "zero": false},
   "axis": {"orient": "left", "offset": -149, "values": [0,0.25,0.5,0.75,1,1.25], "labelExpr": "replace(format(datum.value,'.2f'),'.',',')", "title": "M (μB)", "titlePadding": 5}},
  "color": {"field": "s", "type": "nominal", "scale": {"domain": ["2 K","5 K","10 K","15 K","20 K","25 K","30 K"], "range": ["#000000","#ee1111","#22dd22","#1414c8","#18eaea","#ee18ee","#808018"]},
   "legend": {"orient": "none", "legendX": 156.7, "legendY": 530.4, "title": null, "symbolType": "M-4.32,0H4.32", "symbolSize": 25, "symbolStrokeWidth": 3, "symbolOffset": 6.8, "labelFontSize": 8.5, "labelOffset": 8.5, "rowPadding": 0, "clipHeight": 9.2}}}},
{"data": {"values": [{}]}, "mark": {"type": "rect", "fillOpacity": 0, "stroke": "#222", "strokeWidth": 1},
 "encoding": {
  "x": {"datum": 0, "type": "quantitative", "scale": {"domain": [0,9.38], "range": [149,389], "nice": false, "zero": false}, "axis": {"orient": "bottom", "offset": -350, "values": [1,3,5,7,9], "labels": false, "domain": false, "tickSize": 2.5, "title": null}}, "x2": {"datum": 9.38},
  "y": {"datum": -0.118, "type": "quantitative", "scale": {"domain": [-0.118,1.366], "range": [706,527], "nice": false, "zero": false}, "axis": {"orient": "left", "offset": -149, "values": [0.125,0.375,0.625,0.875,1.125], "labels": false, "domain": false, "tickSize": 2.5, "title": null}}, "y2": {"datum": 1.366}}},
{"data": {"values": [{}]}, "mark": {"type": "text", "text": "Cu₃Nd(SeO₃)₂O₂Cl", "fontSize": 10.5, "align": "left", "baseline": "middle"},
 "encoding": {
  "x": {"datum": 2.46, "type": "quantitative", "scale": {"domain": [0,9.38], "range": [149,389], "nice": false, "zero": false}, "axis": null},
  "y": {"datum": 1.25, "type": "quantitative", "scale": {"domain": [-0.118,1.366], "range": [706,527], "nice": false, "zero": false}, "axis": null}}},

{"data": {"values": [{}]}, "mark": {"type": "rect", "fill": "white", "stroke": "#333", "strokeWidth": 0.8},
 "encoding": {
  "x": {"datum": -6.15, "type": "quantitative", "scale": {"domain": [-6.15,6.15], "range": [267,388], "nice": false, "zero": false}, "axis": null}, "x2": {"datum": 6.15},
  "y": {"datum": -1.1, "type": "quantitative", "scale": {"domain": [-1.1,1.1], "range": [690,592], "nice": false, "zero": false}, "axis": null}, "y2": {"datum": 1.1}}},
{"data": {"values": [{}]}, "mark": {"type": "rule", "color": "#888", "strokeWidth": 0.8},
 "encoding": {
  "x": {"datum": 0, "type": "quantitative", "scale": {"domain": [-6.15,6.15], "range": [267,388], "nice": false, "zero": false}, "axis": null},
  "y": {"datum": -1.1, "type": "quantitative", "scale": {"domain": [-1.1,1.1], "range": [690,592], "nice": false, "zero": false}, "axis": null}, "y2": {"datum": 1.1}}},
{"data": {"values": [{}]}, "mark": {"type": "rule", "color": "#888", "strokeWidth": 0.8},
 "encoding": {
  "x": {"datum": -6.15, "type": "quantitative", "scale": {"domain": [-6.15,6.15], "range": [267,388], "nice": false, "zero": false}, "axis": null}, "x2": {"datum": 6.15},
  "y": {"datum": 0, "type": "quantitative", "scale": {"domain": [-1.1,1.1], "range": [690,592], "nice": false, "zero": false}, "axis": null}}},
{"data": {"name": "insCl"}, "mark": {"type": "line", "strokeWidth": 1.2},
 "encoding": {
  "x": {"field": "B", "type": "quantitative", "scale": {"domain": [-6.15,6.15], "range": [267,388], "nice": false, "zero": false},
   "axis": {"orient": "bottom", "offset": -366, "values": [-6,-3,0,3,6], "title": null, "labelFontSize": 7, "tickSize": 2, "labelPadding": 1, "domain": false}},
  "y": {"field": "M", "type": "quantitative", "scale": {"domain": [-1.1,1.1], "range": [690,592], "nice": false, "zero": false},
   "axis": {"orient": "left", "offset": -267, "values": [-1,-0.5,0,0.5,1], "labelExpr": "replace(format(datum.value,'.1f'),'.',',')", "title": null, "labelFontSize": 7, "tickSize": 2, "labelPadding": 1, "domain": false}},
  "order": {"field": "i", "type": "quantitative"},
  "color": {"field": "s", "type": "nominal", "scale": {"domain": ["2 K","5 K","10 K"], "range": ["#111111","#dd2222","#2a2ad8"]},
   "legend": {"orient": "none", "legendX": 346, "legendY": 642, "title": null, "symbolType": "M-3,0H3", "symbolSize": 36, "symbolStrokeWidth": 1.3, "labelFontSize": 8, "labelOffset": 8, "rowPadding": 3.3}}}},
{"data": {"values": [{}]}, "mark": {"type": "text", "text": "B(T)", "fontSize": 8, "align": "center", "baseline": "middle"},
 "encoding": {
  "x": {"datum": 1.9, "type": "quantitative", "scale": {"domain": [-6.15,6.15], "range": [267,388], "nice": false, "zero": false}, "axis": null},
  "y": {"datum": -0.94, "type": "quantitative", "scale": {"domain": [-1.1,1.1], "range": [690,592], "nice": false, "zero": false}, "axis": null}}},
{"data": {"values": [{}]}, "mark": {"type": "text", "text": "M (μB)", "fontSize": 8, "align": "center", "baseline": "middle", "angle": 270},
 "encoding": {
  "x": {"datum": -1.65, "type": "quantitative", "scale": {"domain": [-6.15,6.15], "range": [267,388], "nice": false, "zero": false}, "axis": null},
  "y": {"datum": 0.79, "type": "quantitative", "scale": {"domain": [-1.1,1.1], "range": [690,592], "nice": false, "zero": false}, "axis": null}}},

{"data": {"name": "mBr"}, "mark": {"type": "line", "strokeWidth": 2.6, "interpolate": "monotone"},
 "encoding": {
  "x": {"field": "B", "type": "quantitative", "scale": {"domain": [0,9.36], "range": [464,704], "nice": false, "zero": false},
   "axis": {"orient": "bottom", "offset": -351, "values": [0,2,4,6,8], "title": "B (T)", "titlePadding": 10}},
  "y": {"field": "M", "type": "quantitative", "scale": {"domain": [-0.245,3.035], "range": [705,527], "nice": false, "zero": false},
   "axis": {"orient": "left", "offset": -464, "values": [0,0.5,1,1.5,2,2.5,3], "labelExpr": "replace(format(datum.value,'.1f'),'.',',')", "title": "M (μB)", "titlePadding": 3}},
  "color": {"field": "s", "type": "nominal", "scale": {"domain": ["2K","5K","10K","15K","20K","25K","30K"], "range": ["#000000","#ee1111","#22dd22","#1414c8","#18eaea","#ee18ee","#808018"]},
   "legend": {"orient": "none", "legendX": 479, "legendY": 530, "title": null, "symbolType": "M-2.5,0H2.5", "symbolSize": 100, "symbolStrokeWidth": 3, "symbolOffset": -1.3, "labelFontSize": 10, "labelOffset": 7.3, "rowPadding": 0.5}}}},
{"data": {"values": [{}]}, "mark": {"type": "rect", "fillOpacity": 0, "stroke": "#222", "strokeWidth": 1},
 "encoding": {
  "x": {"datum": 0, "type": "quantitative", "scale": {"domain": [0,9.36], "range": [464,704], "nice": false, "zero": false}, "axis": {"orient": "bottom", "offset": -351, "values": [1,3,5,7,9], "labels": false, "domain": false, "tickSize": 2.5, "title": null}}, "x2": {"datum": 9.36},
  "y": {"datum": -0.245, "type": "quantitative", "scale": {"domain": [-0.245,3.035], "range": [705,527], "nice": false, "zero": false}, "axis": {"orient": "left", "offset": -464, "values": [0.25,0.75,1.25,1.75,2.25,2.75], "labels": false, "domain": false, "tickSize": 2.5, "title": null}}, "y2": {"datum": 3.035}}},
{"data": {"values": [{}]}, "mark": {"type": "text", "text": "Cu₃Nd(SeO₃)₂O₂Br", "fontSize": 10.5, "align": "left", "baseline": "middle"},
 "encoding": {
  "x": {"datum": 2.1, "type": "quantitative", "scale": {"domain": [0,9.36], "range": [464,704], "nice": false, "zero": false}, "axis": null},
  "y": {"datum": 2.8, "type": "quantitative", "scale": {"domain": [-0.245,3.035], "range": [705,527], "nice": false, "zero": false}, "axis": null}}},

{"data": {"values": [{}]}, "mark": {"type": "rect", "fill": "white", "stroke": "#333", "strokeWidth": 0.8},
 "encoding": {
  "x": {"datum": -6.3, "type": "quantitative", "scale": {"domain": [-6.3,6.3], "range": [577,704], "nice": false, "zero": false}, "axis": null}, "x2": {"datum": 6.3},
  "y": {"datum": -2.55, "type": "quantitative", "scale": {"domain": [-2.55,2.5], "range": [692,592], "nice": false, "zero": false}, "axis": null}, "y2": {"datum": 2.5}}},
{"data": {"values": [{}]}, "mark": {"type": "rule", "color": "#888", "strokeWidth": 0.8},
 "encoding": {
  "x": {"datum": 0, "type": "quantitative", "scale": {"domain": [-6.3,6.3], "range": [577,704], "nice": false, "zero": false}, "axis": null},
  "y": {"datum": -2.55, "type": "quantitative", "scale": {"domain": [-2.55,2.5], "range": [692,592], "nice": false, "zero": false}, "axis": null}, "y2": {"datum": 2.5}}},
{"data": {"values": [{}]}, "mark": {"type": "rule", "color": "#888", "strokeWidth": 0.8},
 "encoding": {
  "x": {"datum": -6.3, "type": "quantitative", "scale": {"domain": [-6.3,6.3], "range": [577,704], "nice": false, "zero": false}, "axis": null}, "x2": {"datum": 6.3},
  "y": {"datum": 0, "type": "quantitative", "scale": {"domain": [-2.55,2.5], "range": [692,592], "nice": false, "zero": false}, "axis": null}}},
{"data": {"name": "insBr"}, "mark": {"type": "line", "strokeWidth": 1.2},
 "encoding": {
  "x": {"field": "B", "type": "quantitative", "scale": {"domain": [-6.3,6.3], "range": [577,704], "nice": false, "zero": false},
   "axis": {"orient": "bottom", "offset": -364, "values": [-6,-4,-2,0,2,4,6], "title": null, "labelFontSize": 7, "tickSize": 2, "labelPadding": 1, "domain": false}},
  "y": {"field": "M", "type": "quantitative", "scale": {"domain": [-2.55,2.5], "range": [692,592], "nice": false, "zero": false},
   "axis": {"orient": "left", "offset": -577, "values": [-2,-1,0,1,2], "title": null, "labelFontSize": 7, "tickSize": 2, "labelPadding": 1, "domain": false}},
  "color": {"field": "s", "type": "nominal", "scale": {"domain": ["2 K","10 K","20 K"], "range": ["#111111","#dd2222","#33dd33"]},
   "legend": {"orient": "none", "legendX": 663, "legendY": 647, "title": null, "symbolType": "M-3.05,0H3.05", "symbolSize": 36, "symbolStrokeWidth": 1.3, "labelFontSize": 8, "labelOffset": 6.4, "rowPadding": 2.7}}}},
{"data": {"values": [{}]}, "mark": {"type": "text", "text": "B (T)", "fontSize": 8, "align": "center", "baseline": "middle"},
 "encoding": {
  "x": {"datum": 1.45, "type": "quantitative", "scale": {"domain": [-6.3,6.3], "range": [577,704], "nice": false, "zero": false}, "axis": null},
  "y": {"datum": -2.35, "type": "quantitative", "scale": {"domain": [-2.55,2.5], "range": [692,592], "nice": false, "zero": false}, "axis": null}}},
{"data": {"values": [{}]}, "mark": {"type": "text", "text": "M (μB)", "fontSize": 8, "align": "center", "baseline": "middle", "angle": 270},
 "encoding": {
  "x": {"datum": -1.05, "type": "quantitative", "scale": {"domain": [-6.3,6.3], "range": [577,704], "nice": false, "zero": false}, "axis": null},
  "y": {"datum": 1.49, "type": "quantitative", "scale": {"domain": [-2.55,2.5], "range": [692,592], "nice": false, "zero": false}, "axis": null}}}
]
}
